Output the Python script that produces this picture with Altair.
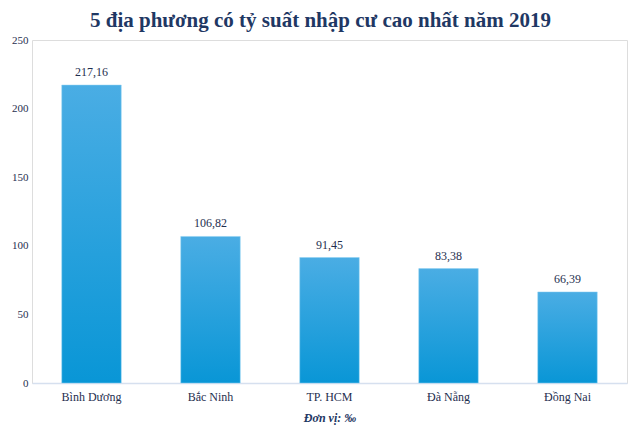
import altair as alt
import pandas as pd

categories = ["Bình Dương", "Bắc Ninh", "TP. HCM", "Đà Nẵng", "Đồng Nai"]
values = [217.16, 106.82, 91.45, 83.38, 66.39]
labels = ["217,16", "106,82", "91,45", "83,38", "66,39"]

df = pd.DataFrame({"cat": categories, "val": values, "lab": labels})

NAVY = "#1f3864"
FONT = "Liberation Serif"

base = alt.Chart(df).encode(
    x=alt.X("cat:N", sort=categories,
            scale=alt.Scale(paddingInner=0.5, paddingOuter=0.25),
            axis=alt.Axis(title="Đơn vị: ‰", labelAngle=0, ticks=False,
                          domainColor="#d6e0ef", domainWidth=1.5,
                          labelFont=FONT, labelFontSize=12, labelColor="#1f2f4f",
                          labelPadding=8, titleFont=FONT, titleFontSize=12,
                          titleFontStyle="italic", titleFontWeight="bold",
                          titleColor=NAVY, titlePadding=10)),
    y=alt.Y("val:Q", scale=alt.Scale(domain=[0, 250]),
            axis=alt.Axis(title=None, values=[0, 50, 100, 150, 200, 250],
                          grid=False, domain=False, ticks=False,
                          labelFont=FONT, labelFontSize=11, labelColor="#1f2f4f",
                          labelPadding=4)),
)

bars = base.mark_bar(
    color=alt.Gradient(
        gradient="linear", x1=0, x2=0, y1=0, y2=1,
        stops=[alt.GradientStop(color="#4aade4", offset=0),
               alt.GradientStop(color="#0996d6", offset=1)]),
    stroke="#8fd0f2", strokeWidth=0.5,
)

text = base.mark_text(baseline="bottom", dy=-6, font=FONT, fontSize=12,
                      color="#1f2f4f").encode(text="lab:N")

chart = (bars + text).properties(
    width=595, height=343,
    title=alt.TitleParams("5 địa phương có tỷ suất nhập cư cao nhất năm 2019",
                          font=FONT, fontSize=21, fontWeight="bold",
                          color=NAVY, anchor="middle", dx=-9, offset=3),
    autosize=alt.AutoSizeParams(type="none"),
    padding={"left": 24, "top": 32, "right": 5, "bottom": 42},
).configure_view(stroke=None).configure(background="white")

chart.save("out.html", embed_options={"renderer": "svg", "actions": False})
